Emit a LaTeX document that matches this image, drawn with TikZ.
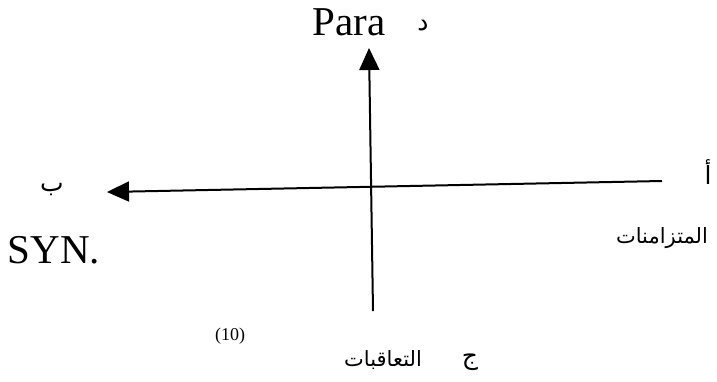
\documentclass[tikz,border=0pt]{standalone}
\usepackage{fontspec}
\setmainfont{Liberation Serif}
\newfontfamily\arabicfont[Script=Arabic]{DejaVu Sans}
\TeXXeTstate=1
\usetikzlibrary{arrows.meta}
\begin{document}
\begin{tikzpicture}[x=1pt,y=-1pt,
  axis/.style={line width=2pt,-{Triangle[length=22pt,width=20pt]}},
  lat/.style={font=\fontsize{41}{41}\selectfont,inner sep=0pt},
  small/.style={font=\fontsize{18}{18}\selectfont,inner sep=0pt},
  ar/.style={font=\arabicfont\fontsize{21}{26}\selectfont,inner sep=0pt},
  arl/.style={font=\arabicfont\fontsize{25}{28}\selectfont,inner sep=0pt}]
\useasboundingbox (0,0) rectangle (717,381);
\coordinate (hR) at (662,181);
\coordinate (hL) at (107,192);
\coordinate (vB) at (373,311);
\coordinate (vT) at (369,48);
\draw[axis] (hR) -- (hL);
\draw[axis] (vB) -- (vT);
\node[lat,anchor=base] (para) at (349,35) {Para};
\node[arl] (dal) at (423,26) {\beginR د\endR};
\node[arl] (alif) at (708,172) {\beginR أ\endR};
\node[arl] (ba) at (52,190) {\beginR ب\endR};
\node[lat,anchor=base] (syn) at (54,263) {SYN.};
\node[ar] (mut) at (662,238) {\beginR المتزامنات\endR};
\node[small] (ten) at (230,336) {(10)};
\node[ar] (taa) at (383,360) {\beginR التعاقبات\endR};
\node[arl] (jim) at (470,362) {\beginR ج\endR};
\end{tikzpicture}
\end{document}
